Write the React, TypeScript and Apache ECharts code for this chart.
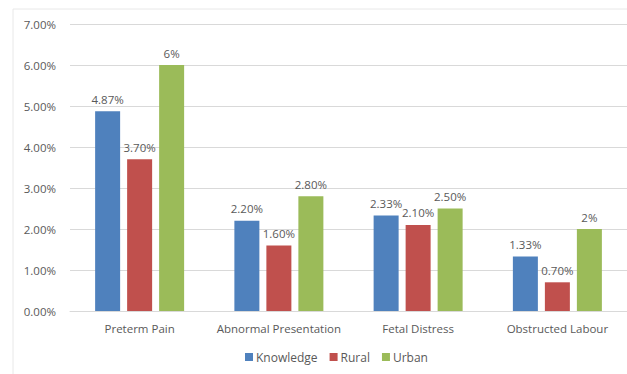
import React, { useEffect, useRef } from "react";
import * as echarts from "echarts";

const categories = ["Preterm Pain", "Abnormal Presentation", "Fetal Distress", "Obstructed Labour"];
const knowledge = [4.87, 2.2, 2.33, 1.33];
const rural = [3.7, 1.6, 2.1, 0.7];
const urban = [6, 2.8, 2.5, 2];
const seriesNames = ["Knowledge", "Rural", "Urban"];
const colors = ["#4F81BD", "#C0504D", "#9BBB59"];

const FONT = "'Open Sans', 'Noto Sans', sans-serif";
const TEXT = "#595959";
const FS = 11.5;

const pct = (v: number) => (Number.isInteger(v) ? `${v}%` : `${v.toFixed(2)}%`);

export default function App() {
  const ref = useRef<HTMLDivElement>(null);

  useEffect(() => {
    if (!ref.current) return;
    document.body.style.margin = "0";
    const chart = echarts.init(ref.current, null, { renderer: "svg" });
    const seriesData = [knowledge, rural, urban];
    chart.setOption({
      animation: false,
      backgroundColor: "#ffffff",
      textStyle: { fontFamily: FONT },
      graphic: [
        {
          type: "rect",
          shape: { x: 13, y: 9, width: 700, height: 420 },
          style: { fill: "none", stroke: "#e8e8e8", lineWidth: 1 },
          silent: true,
        },
      ],
      grid: { left: 70, top: 24, width: 563, height: 287, containLabel: false },
      legend: {
        bottom: 6,
        left: 240,
        itemWidth: 8,
        itemHeight: 8,
        itemGap: 12,
        icon: "rect",
        textStyle: { color: TEXT, fontSize: 12, fontFamily: FONT, padding: [0, 0, 0, -2] },
        data: seriesNames,
      },
      xAxis: {
        type: "category",
        data: categories,
        axisLine: { lineStyle: { color: "#d9d9d9" } },
        axisTick: { show: false },
        axisLabel: { color: TEXT, fontSize: FS, fontFamily: FONT, margin: 11, interval: 0 },
      },
      yAxis: {
        type: "value",
        min: 0,
        max: 7,
        interval: 1,
        axisLine: { show: false },
        axisTick: { show: false },
        splitLine: { lineStyle: { color: "#d9d9d9" } },
        axisLabel: {
          color: TEXT,
          fontSize: FS,
          fontFamily: FONT,
          margin: 14,
          formatter: (v: number) => `${v.toFixed(2)}%`,
        },
      },
      series: seriesNames.map((name, i) => ({
        name,
        type: "bar",
        data: seriesData[i],
        barWidth: 25,
        barGap: "28%",
        itemStyle: { color: colors[i] },
        label: {
          show: true,
          position: "top",
          distance: 6,
          color: TEXT,
          fontSize: FS,
          fontFamily: FONT,
          formatter: (p: any) => pct(p.value),
        },
      })),
    });
    return () => chart.dispose();
  }, []);

  return <div ref={ref} style={{ width: 627, height: 374 }} />;
}
